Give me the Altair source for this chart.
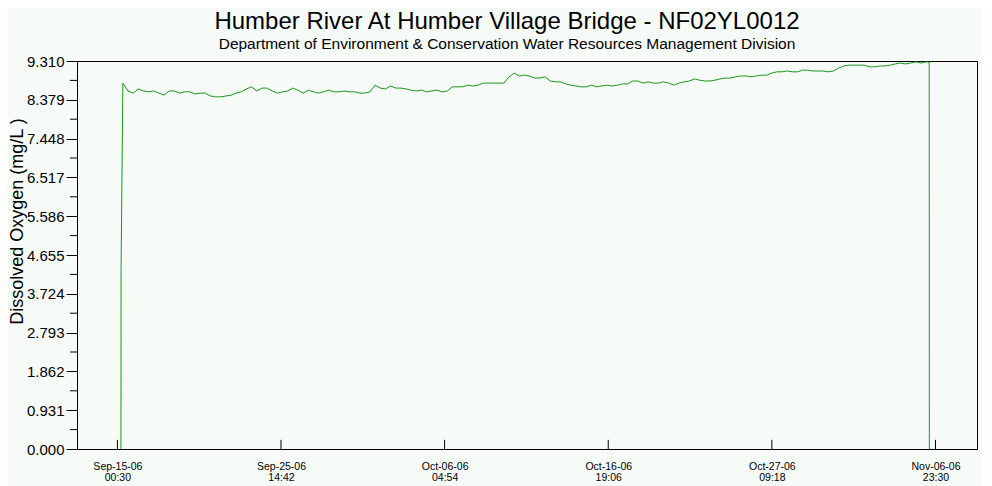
import altair as alt
import pandas as pd

title_text = "Humber River At Humber Village Bridge - NF02YL0012"
subtitle_text = "Department of Environment & Conservation Water Resources Management Division"
y_title = "Dissolved Oxygen (mg/L )"

# leading samples (sensor deployment)
start_times = ["2006-09-15 06:00", "2006-09-15 06:15"]
start_values = [0.0, 4.35]

# main record, 8-hourly readings from Sep-15-06 09:00
main_start = "2006-09-15 09:00"
main_step = "8h"
main_values = [
    8.78, 8.59, 8.54, 8.64, 8.59, 8.57, 8.59, 8.54, 8.49, 8.59,
    8.59, 8.54, 8.57, 8.57, 8.52, 8.54, 8.54, 8.47, 8.45, 8.45,
    8.47, 8.49, 8.54, 8.57, 8.64, 8.69, 8.59, 8.66, 8.66, 8.59,
    8.54, 8.57, 8.59, 8.66, 8.61, 8.54, 8.61, 8.57, 8.54, 8.57,
    8.61, 8.57, 8.57, 8.59, 8.57, 8.57, 8.54, 8.54, 8.57, 8.73,
    8.66, 8.64, 8.71, 8.66, 8.66, 8.64, 8.61, 8.59, 8.61, 8.57,
    8.59, 8.61, 8.57, 8.59, 8.69, 8.69, 8.69, 8.73, 8.71, 8.73,
    8.78, 8.78, 8.78, 8.78, 8.78, 8.93, 9.02, 8.95, 8.97, 8.95,
    8.90, 8.90, 8.93, 8.83, 8.81, 8.81, 8.76, 8.73, 8.71, 8.69,
    8.69, 8.73, 8.69, 8.71, 8.73, 8.71, 8.73, 8.76, 8.76, 8.83,
    8.83, 8.78, 8.81, 8.78, 8.78, 8.81, 8.78, 8.73, 8.78, 8.81,
    8.83, 8.88, 8.85, 8.83, 8.83, 8.85, 8.88, 8.90, 8.90, 8.93,
    8.95, 8.95, 8.93, 8.95, 8.97, 8.97, 9.02, 9.05, 9.05, 9.07,
    9.05, 9.05, 9.09, 9.09, 9.07, 9.07, 9.07, 9.05, 9.07, 9.14,
    9.19, 9.21, 9.21, 9.21, 9.21, 9.17, 9.17, 9.19, 9.19, 9.21,
    9.24, 9.26, 9.24, 9.26, 9.29, 9.26, 9.29,
]

# trailing samples (sensor removal)
end_times = ["2006-11-06 13:45", "2006-11-06 14:00"]
end_values = [9.28, 0.0]

x_tick_times = [
    "2006-09-15 00:30", "2006-09-25 14:42", "2006-10-06 04:54",
    "2006-10-16 19:06", "2006-10-27 09:18", "2006-11-06 23:30",
]
x_domain = ["2006-09-12 09:45", "2006-11-09 16:00"]
y_major = [0.0, 0.931, 1.862, 2.793, 3.724, 4.655, 5.586, 6.517, 7.448, 8.379, 9.310]
y_minor = [(a + b) / 2 for a, b in zip(y_major[:-1], y_major[1:])]

times = (
    list(pd.to_datetime(start_times))
    + list(pd.date_range(main_start, periods=len(main_values), freq=main_step))
    + list(pd.to_datetime(end_times))
)
values = start_values + main_values + end_values
df = pd.DataFrame({"time": times, "do": values})


def dt(s):
    t = pd.Timestamp(s)
    return alt.DateTime(year=t.year, month=t.month, date=t.day, hours=t.hour, minutes=t.minute)


ticks_df = pd.DataFrame({"time": pd.to_datetime(x_tick_times)})
minor_df = pd.DataFrame({"v": y_minor})

FONT = "Liberation Sans"
BG = "#f7fbf7"
LINE = "#1b961b"

x_scale = alt.Scale(domain=[dt(s) for s in x_domain])
y_scale = alt.Scale(domain=[0, 9.31], nice=False, zero=True)

line = alt.Chart(df).mark_line(color=LINE, strokeWidth=1).encode(
    x=alt.X(
        "time:T",
        scale=x_scale,
        axis=alt.Axis(
            values=[dt(s) for s in x_tick_times],
            tickCount=50,
            labelExpr="[timeFormat(datum.value, '%b-%d-%y'), timeFormat(datum.value, '%H:%M')]",
            ticks=False,
            labelPadding=12,
            labelFontSize=10.5,
            labelLineHeight=11,
            labelFont=FONT,
            labelColor="black",
            domainColor="black",
            labelFlush=False,
            labelOverlap=False,
            grid=False,
            title=None,
        ),
    ),
    y=alt.Y(
        "do:Q",
        scale=y_scale,
        axis=alt.Axis(
            values=y_major,
            tickCount=50,
            format=".3f",
            tickSize=11,
            tickColor="black",
            domainColor="black",
            labelPadding=2,
            labelFontSize=15,
            labelFont=FONT,
            labelColor="black",
            labelOverlap=False,
            labelFlush=False,
            grid=False,
            title=y_title,
            titleFont=FONT,
            titleFontSize=18,
            titleFontWeight="normal",
            titleColor="black",
            titlePadding=0,
            titleY=160,
        ),
    ),
)

xticks = alt.Chart(ticks_df).mark_rule(color="black", strokeWidth=1).encode(
    x=alt.X("time:T", scale=x_scale),
    y=alt.datum(0),
    y2=alt.datum(0.22),
)

yminor = alt.Chart(minor_df).mark_rule(color="black", strokeWidth=1, clip=False).encode(
    y=alt.Y("v:Q", scale=y_scale),
    x=alt.value(-7),
    x2=alt.value(0),
)

chart = (
    alt.layer(line, xticks, yminor)
    .properties(
        width=900,
        height=388,
        background=BG,
        padding={"left": 0, "top": 1, "right": 5, "bottom": 5},
        title=alt.TitleParams(
            text=title_text,
            subtitle=subtitle_text,
            font=FONT,
            fontSize=24,
            fontWeight="normal",
            color="black",
            subtitleFont=FONT,
            subtitleFontSize=15.5,
            subtitleColor="black",
            subtitlePadding=3,
            anchor="middle",
            frame="group",
            dx=-20,
            offset=2,
        ),
    )
    .configure_view(stroke="black", strokeWidth=1, fill=BG)
)

chart.save("out.html", embed_options={"renderer": "svg", "actions": False})
